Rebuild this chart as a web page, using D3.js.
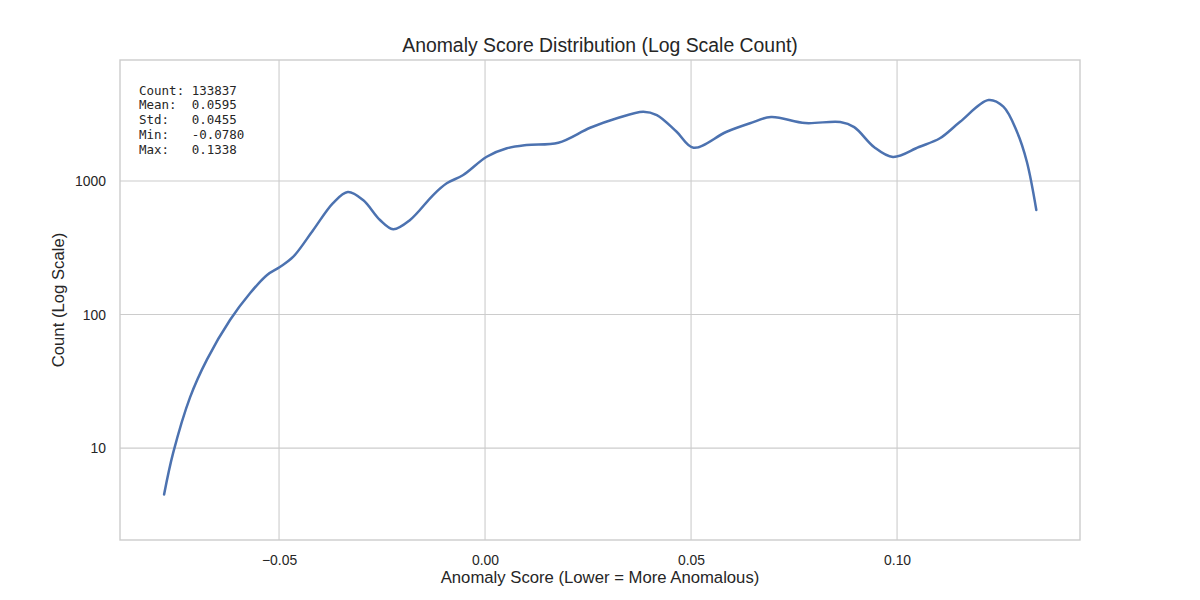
<!DOCTYPE html>
<html>
<head>
<meta charset="utf-8">
<script src="https://cdn.jsdelivr.net/npm/d3@7"></script>
<style>
  body { margin: 0; background: #fff; }
  svg text { fill: #262626; }
</style>
</head>
<body>
<div class="chartWrapper"></div>
<script>
const width = 1200, height = 600;
const margin = { top: 60, right: 120, bottom: 60, left: 120 };
const sansFont = "'Liberation Sans', Arial, sans-serif";

// values (score, count)
const scores = [-0.0779, -0.0757, -0.0716, -0.0675, -0.0619, -0.0570, -0.0529, -0.0498, -0.0466, -0.0417,
  -0.0369, -0.0333, -0.0296, -0.0255, -0.0223, -0.0182, -0.0126, -0.0093, -0.0053, 0.0004,
  0.0053, 0.0101, 0.0178, 0.0255, 0.0320, 0.0384, 0.0417, 0.0465, 0.0506, 0.0585,
  0.0643, 0.0694, 0.0777, 0.0862, 0.0896, 0.0944, 0.0990, 0.1053, 0.1104, 0.1153,
  0.1222, 0.1258, 0.1291, 0.1315, 0.1338];
const counts = [4.5, 9.2, 24, 46, 91, 145, 198, 227, 270, 430,
  684, 828, 721, 511, 436, 511, 785, 961, 1109, 1520,
  1758, 1862, 1936, 2505, 2951, 3306, 3119, 2338, 1775, 2328,
  2706, 3015, 2718, 2767, 2535, 1799, 1514, 1799, 2090, 2780,
  4045, 3605, 2339, 1395, 607];

const xTicks = [-0.05, 0, 0.05, 0.10];
const yTicks = [10, 100, 1000];
const statLines = ["Count: 133837", "Mean:  0.0595", "Std:   0.0455", "Min:   -0.0780", "Max:   0.1338"];

const points = scores.map((s, i) => ({ score: s, count: counts[i] }));

const svg = d3.select(".chartWrapper").append("svg")
  .attr("width", width)
  .attr("height", height);

const x = d3.scaleLinear()
  .domain([-0.0886, 0.1444])
  .range([margin.left, width - margin.right]);

const y = d3.scaleLog()
  .domain([2.05, 8060])
  .range([height - margin.bottom, margin.top]);

// grid
svg.append("g")
  .selectAll("line")
  .data(xTicks)
  .join("line")
  .attr("x1", d => x(d)).attr("x2", d => x(d))
  .attr("y1", margin.top).attr("y2", height - margin.bottom)
  .attr("stroke", "#cccccc").attr("stroke-width", 1.1);

svg.append("g")
  .selectAll("line")
  .data(yTicks)
  .join("line")
  .attr("x1", margin.left).attr("x2", width - margin.right)
  .attr("y1", d => y(d)).attr("y2", d => y(d))
  .attr("stroke", "#cccccc").attr("stroke-width", 1.1);

// axes (labels only, seaborn whitegrid has no tick marks)
const xAxis = svg.append("g")
  .attr("transform", `translate(0,${height - margin.bottom})`)
  .call(d3.axisBottom(x).tickValues(xTicks).tickSize(0).tickPadding(15)
    .tickFormat(d => d3.format(".2f")(d).replace("-", "\u2212")));
xAxis.select(".domain").remove();
xAxis.selectAll("text").attr("font-size", "13.9px").style("font-family", sansFont);

const yAxis = svg.append("g")
  .attr("transform", `translate(${margin.left},0)`)
  .call(d3.axisLeft(y).tickValues(yTicks).tickSize(0).tickPadding(14).tickFormat(d3.format("d")));
yAxis.select(".domain").remove();
yAxis.selectAll("text").attr("font-size", "13.9px").style("font-family", sansFont);

// frame
svg.append("rect")
  .attr("x", margin.left).attr("y", margin.top)
  .attr("width", width - margin.left - margin.right)
  .attr("height", height - margin.top - margin.bottom)
  .attr("fill", "none").attr("stroke", "#cccccc").attr("stroke-width", 1.4);

// the curve
const line = d3.line()
  .x(d => x(d.score))
  .y(d => y(d.count))
  .curve(d3.curveCatmullRom.alpha(0.5));

svg.append("path")
  .datum(points)
  .attr("d", line)
  .attr("fill", "none")
  .attr("stroke", "#4c72b0")
  .attr("stroke-width", 2.5)
  .attr("stroke-linecap", "round")
  .attr("stroke-linejoin", "round");

// stats box text
svg.append("g")
  .selectAll("text")
  .data(statLines)
  .join("text")
  .attr("x", 139)
  .attr("y", (d, i) => 94.5 + i * 14.9)
  .style("font-family", "'DejaVu Sans Mono', monospace")
  .style("font-size", "12.5px")
  .style("white-space", "pre")
  .text(d => d);

// titles
svg.append("text")
  .attr("x", (margin.left + width - margin.right) / 2)
  .attr("y", 52)
  .attr("text-anchor", "middle")
  .style("font-family", sansFont)
  .style("font-size", "19.4px")
  .text("Anomaly Score Distribution (Log Scale Count)");

svg.append("text")
  .attr("x", (margin.left + width - margin.right) / 2)
  .attr("y", 583)
  .attr("text-anchor", "middle")
  .style("font-family", sansFont)
  .style("font-size", "16.7px")
  .text("Anomaly Score (Lower = More Anomalous)");

svg.append("text")
  .attr("transform", `translate(64,${(margin.top + height - margin.bottom) / 2}) rotate(-90)`)
  .attr("text-anchor", "middle")
  .style("font-family", sansFont)
  .style("font-size", "16.7px")
  .text("Count (Log Scale)");
</script>
</body>
</html>
